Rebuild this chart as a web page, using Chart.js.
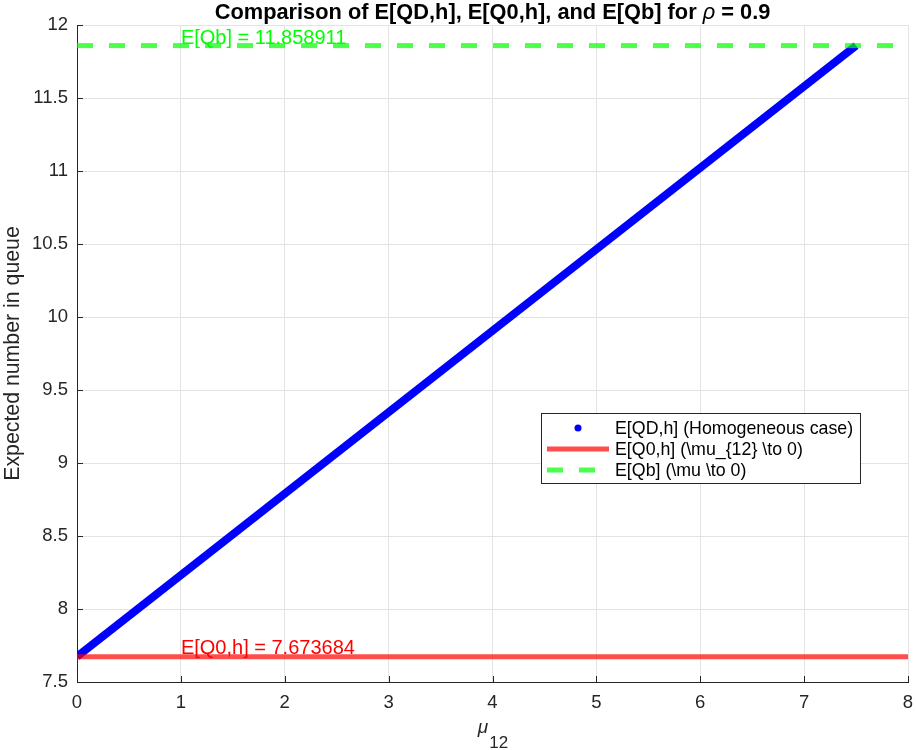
<!DOCTYPE html>
<html>
<head>
<meta charset="utf-8">
<script src="https://cdn.jsdelivr.net/npm/chart.js@4.4.0/dist/chart.umd.min.js"></script>
<style>
  html, body { margin: 0; padding: 0; background: #fff; }
  #wrap { width: 916px; height: 750px; position: relative; }
</style>
</head>
<body>
<div id="wrap"><canvas id="chart" width="916" height="750"></canvas></div>
<script>
// ===== Data =====
const rho = 0.9;
const EQ0h = 7.673684;
const EQb = 11.858911;
const mu12Range = [0, 7.5];          // E[QD,h] runs from E[Q0,h] at mu12=0 up to E[Qb] at mu12=7.5
const homogeneousY = [7.673684, 11.858911];
const flatRange = [0, 8];
const xTicks = [0, 1, 2, 3, 4, 5, 6, 7, 8];
const yTicks = [7.5, 8, 8.5, 9, 9.5, 10, 10.5, 11, 11.5, 12];
const labelAtX = 1;

const FONT = '"Liberation Sans", Arial, sans-serif';
const AXIS = '#262626';

// ===== Extra drawing: title, x label, value notes, legend, inner ticks =====
const decorations = {
  id: 'decorations',
  afterDraw(chart) {
    const ctx = chart.ctx;
    const { x, y } = chart.scales;
    const area = chart.chartArea;
    ctx.save();

    // inner tick marks
    ctx.strokeStyle = AXIS;
    ctx.lineWidth = 1;
    xTicks.forEach(v => {
      const px = Math.round(x.getPixelForValue(v)) + 0.5;
      ctx.beginPath(); ctx.moveTo(px, area.bottom); ctx.lineTo(px, area.bottom - 6); ctx.stroke();
    });
    yTicks.forEach(v => {
      const py = Math.round(y.getPixelForValue(v)) + 0.5;
      ctx.beginPath(); ctx.moveTo(area.left, py); ctx.lineTo(area.left + 6, py); ctx.stroke();
    });

    // title with italic rho
    const parts = [
      { t: 'Comparison of E[QD,h], E[Q0,h], and E[Qb] for ', f: 'bold 21.8px ' + FONT },
      { t: 'ρ', f: 'italic 21.8px ' + FONT },
      { t: ' = ' + rho, f: 'bold 21.8px ' + FONT }
    ];
    let total = 0;
    parts.forEach(p => { ctx.font = p.f; p.w = ctx.measureText(p.t).width; total += p.w; });
    let tx = (area.left + area.right) / 2 - total / 2;
    ctx.fillStyle = '#000';
    ctx.textBaseline = 'alphabetic';
    ctx.textAlign = 'left';
    parts.forEach(p => { ctx.font = p.f; ctx.fillText(p.t, tx, 19); tx += p.w; });

    // x label: mu with subscript 12
    ctx.fillStyle = AXIS;
    ctx.font = 'italic 19px ' + FONT;
    const muW = ctx.measureText('μ').width;
    ctx.font = '17px ' + FONT;
    const subW = ctx.measureText('12').width;
    const lx = (area.left + area.right) / 2 - (muW + subW) / 2;
    ctx.font = 'italic 19px ' + FONT;
    ctx.fillText('μ', lx, 733);
    ctx.font = '17px ' + FONT;
    ctx.fillText('12', lx + muW + 1, 748);

    // value notes
    ctx.font = '20px ' + FONT;
    ctx.fillStyle = '#00ff00';
    ctx.fillText('E[Qb] = ' + EQb.toFixed(6), x.getPixelForValue(labelAtX), y.getPixelForValue(EQb) - 2);
    ctx.fillStyle = '#ff0000';
    ctx.fillText('E[Q0,h] = ' + EQ0h.toFixed(6), x.getPixelForValue(labelAtX), y.getPixelForValue(EQ0h) - 3);

    // legend box
    const lb = { l: 541.5, t: 413.5, w: 319, h: 70 };
    ctx.fillStyle = '#fff';
    ctx.fillRect(lb.l, lb.t, lb.w, lb.h);
    ctx.strokeStyle = '#262626';
    ctx.lineWidth = 1;
    ctx.strokeRect(lb.l, lb.t, lb.w, lb.h);
    const rows = [428, 449, 470];
    ctx.font = '17.8px ' + FONT;
    ctx.textBaseline = 'middle';
    chart.data.datasets.forEach((ds, i) => {
      const ry = rows[i];
      if (ds.legendDot) {
        ctx.fillStyle = ds.borderColor;
        ctx.beginPath(); ctx.arc(578, ry, 3.5, 0, Math.PI * 2); ctx.fill();
      } else {
        ctx.strokeStyle = ds.borderColor;
        ctx.lineWidth = ds.borderWidth;
        ctx.setLineDash(ds.borderDash || []);
        ctx.beginPath(); ctx.moveTo(547, ry); ctx.lineTo(609, ry); ctx.stroke();
        ctx.setLineDash([]);
      }
      ctx.fillStyle = '#000';
      ctx.fillText(ds.label, 615, ry + 1);
    });
    ctx.restore();
  }
};

// ===== Chart =====
const ctx = document.getElementById('chart').getContext('2d');
new Chart(ctx, {
  type: 'line',
  data: {
    datasets: [
      {
        label: 'E[QD,h] (Homogeneous case)',
        data: mu12Range.map((v, i) => ({ x: v, y: homogeneousY[i] })),
        borderColor: '#0000ff',
        borderWidth: 8,
        pointRadius: 0,
        legendDot: true,
        order: 2
      },
      {
        label: 'E[Q0,h] (\\mu_{12} \\to 0)',
        data: flatRange.map(v => ({ x: v, y: EQ0h })),
        borderColor: 'rgba(255, 0, 0, 0.7)',
        borderWidth: 5,
        pointRadius: 0,
        order: 1
      },
      {
        label: 'E[Qb] (\\mu \\to 0)',
        data: flatRange.map(v => ({ x: v, y: EQb })),
        borderColor: 'rgba(0, 255, 0, 0.7)',
        borderWidth: 5,
        borderDash: [16, 16],
        borderCapStyle: 'butt',
        pointRadius: 0,
        order: 0
      }
    ]
  },
  options: {
    responsive: false,
    animation: false,
    layout: { padding: { top: 25, right: 8, bottom: 0, left: 0 } },
    plugins: { legend: { display: false }, tooltip: { enabled: false }, title: { display: false } },
    scales: {
      x: {
        type: 'linear',
        min: 0, max: 8,
        afterBuildTicks: s => { s.ticks = xTicks.map(v => ({ value: v })); },
        afterFit: s => { s.height = 68; s.paddingLeft = 0; s.paddingRight = 0; },
        grid: { color: '#e3e3e3', drawTicks: false },
        border: { color: AXIS, width: 1 },
        ticks: { color: AXIS, font: { family: FONT, size: 18.5 }, padding: 10, maxRotation: 0, callback: v => String(v) }
      },
      y: {
        type: 'linear',
        min: 7.5, max: 12,
        afterBuildTicks: s => { s.ticks = yTicks.map(v => ({ value: v })); },
        afterFit: s => { s.width = 77; s.paddingTop = 0; s.paddingBottom = 0; },
        grid: { color: '#e3e3e3', drawTicks: false },
        border: { color: AXIS, width: 1 },
        ticks: { color: AXIS, font: { family: FONT, size: 18.5 }, padding: 9, callback: v => String(v) },
        title: { display: true, text: 'Expected number in queue', color: AXIS, font: { family: FONT, size: 21.3 }, padding: { top: 0, bottom: 0 } }
      }
    }
  },
  plugins: [decorations]
});
</script>
</body>
</html>
